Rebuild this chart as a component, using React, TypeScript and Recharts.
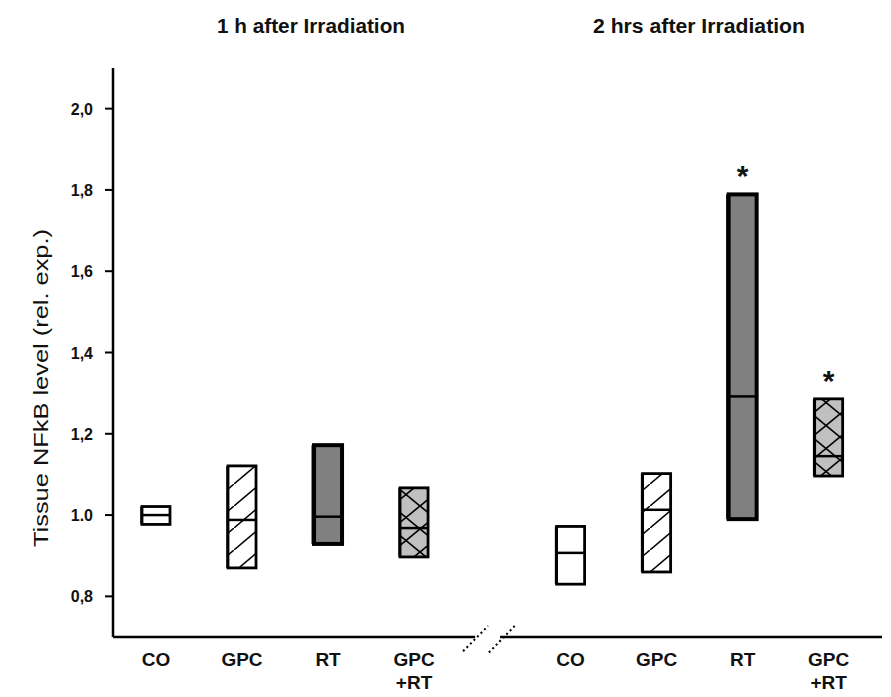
import {
  ComposedChart,
  Bar,
  Scatter,
  XAxis,
  YAxis,
  ReferenceLine,
  LabelList,
} from 'recharts';

// group headings and treatment arms
const groupTitles = ['1 h after Irradiation', '2 hrs after Irradiation'];
const treatments = ['CO', 'GPC', 'RT', 'GPC+RT'];

// tissue NFkB (relative expression): min / median / max per arm
const lows1h = [0.977, 0.87, 0.929, 0.897];
const medians1h = [1.0, 0.988, 0.996, 0.968];
const highs1h = [1.021, 1.121, 1.172, 1.067];

const lows2h = [0.83, 0.86, 0.99, 1.096];
const medians2h = [0.907, 1.013, 1.292, 1.145];
const highs2h = [0.972, 1.102, 1.789, 1.286];

const significance2h = ['', '', '*', '*'];

const yTicks = [0.8, 1.0, 1.2, 1.4, 1.6, 1.8, 2.0];
const yTickLabels = ['0,8', '1.0', '1,2', '1,4', '1,6', '1,8', '2,0'];

const W = 891;
const H = 697;
const GROUP_OFFSET = 4.82; // slot where the second group starts (leaves room for the axis break)
const FONT = 'Liberation Sans, Arial, sans-serif';

const rows = [
  ...treatments.map((t, i) => ({
    pos: i,
    name: t,
    range: [lows1h[i], highs1h[i]],
    median: medians1h[i],
    sig: '',
  })),
  ...treatments.map((t, i) => ({
    pos: GROUP_OFFSET + i,
    name: t,
    range: [lows2h[i], highs2h[i]],
    median: medians2h[i],
    sig: significance2h[i],
  })),
];

const fills: Record<string, string> = {
  CO: '#ffffff',
  GPC: 'url(#hatchDiag)',
  RT: '#808080',
  'GPC+RT': 'url(#hatchCross)',
};

function BoxShape(props: any) {
  const { x, y, width, height, payload } = props;
  const heavy = payload.name === 'RT';
  return (
    <g>
      <rect x={x} y={y} width={width} height={height} fill={fills[payload.name]} stroke="#000" strokeWidth={heavy ? 4 : 2.8} />
      {/* heavier left edge */}
      <line x1={x - 1} x2={x - 1} y1={y} y2={y + height} stroke="#000" strokeWidth={heavy ? 3 : 1.5} />
    </g>
  );
}

function MedianLine(props: any) {
  const { cx, cy } = props;
  return <line x1={cx - 14} x2={cx + 14} y1={cy} y2={cy} stroke="#000" strokeWidth={2.5} />;
}

function TreatmentTick(props: any) {
  const { x, y, index } = props;
  const label = rows[index] ? rows[index].name : '';
  const parts = label === 'GPC+RT' ? ['GPC', '+RT'] : [label];
  return (
    <g>
      {parts.map((p, k) => (
        <text key={k} x={x} y={y + 21 + k * 23} textAnchor="middle" fontSize={19} fontWeight="bold" fill="#111" fontFamily={FONT}>
          {p}
        </text>
      ))}
    </g>
  );
}

function ValueTick(props: any) {
  const { x, y, index } = props;
  return (
    <text x={x - 10} y={y} dy={6} textAnchor="end" fontSize={16} fontWeight="bold" fill="#111" fontFamily={FONT}>
      {yTickLabels[index]}
    </text>
  );
}

function Star(props: any) {
  const { x, y, width, value } = props;
  if (!value) return null;
  return (
    <text x={x + width / 2} y={y - 8} textAnchor="middle" fontSize={30} fontWeight="bold" fill="#111" fontFamily={FONT}>
      {value}
    </text>
  );
}

export default function App() {
  return (
    <div style={{ position: 'absolute', left: 0, top: 0, width: W, height: H, background: '#fff' }}>
      <svg width={0} height={0} style={{ position: 'absolute' }}>
        <defs>
          <pattern id="hatchDiag" patternUnits="userSpaceOnUse" width={26} height={22}>
            <rect width={26} height={22} fill="#fff" />
            <line x1={0} y1={22} x2={26} y2={0} stroke="#000" strokeWidth={1.5} />
          </pattern>
          <pattern id="hatchCross" patternUnits="userSpaceOnUse" width={28} height={23}>
            <rect width={28} height={23} fill="#c0c0c0" />
            <line x1={0} y1={23} x2={28} y2={0} stroke="#000" strokeWidth={1.7} />
            <line x1={0} y1={0} x2={28} y2={23} stroke="#000" strokeWidth={1.7} />
          </pattern>
        </defs>
      </svg>

      <ComposedChart width={W} height={H} data={rows} margin={{ top: 68, right: 9, bottom: 0, left: 0 }}>
        <XAxis
          type="number"
          dataKey="pos"
          domain={[-0.5, 8.44]}
          ticks={rows.map((r) => r.pos)}
          tick={<TreatmentTick />}
          axisLine={false}
          tickLine={false}
          height={60}
          allowDataOverflow
        />
        <YAxis
          type="number"
          domain={[0.7, 2.1]}
          ticks={yTicks}
          tick={<ValueTick />}
          width={113}
          axisLine={{ stroke: '#000', strokeWidth: 2.5 }}
          tickLine={{ stroke: '#000', strokeWidth: 2 }}
          tickSize={8}
          allowDataOverflow
        />

        {/* broken x axis */}
        <ReferenceLine segment={[{ x: -0.5, y: 0.7 }, { x: 3.71, y: 0.7 }]} stroke="#000" strokeWidth={2.5} ifOverflow="visible" />
        <ReferenceLine segment={[{ x: 4.0, y: 0.7 }, { x: 8.44, y: 0.7 }]} stroke="#000" strokeWidth={2.5} ifOverflow="visible" />
        <ReferenceLine segment={[{ x: 3.57, y: 0.665 }, { x: 3.86, y: 0.727 }]} stroke="#000" strokeWidth={2} strokeDasharray="2 3" ifOverflow="visible" />
        <ReferenceLine segment={[{ x: 3.87, y: 0.662 }, { x: 4.17, y: 0.727 }]} stroke="#000" strokeWidth={2} strokeDasharray="2 3" ifOverflow="visible" />

        <Bar dataKey="range" barSize={28} shape={<BoxShape />} isAnimationActive={false}>
          <LabelList dataKey="sig" content={<Star />} />
        </Bar>
        <Scatter dataKey="median" shape={<MedianLine />} isAnimationActive={false} />
      </ComposedChart>

      <svg width={W} height={H} style={{ position: 'absolute', left: 0, top: 0, pointerEvents: 'none' }}>
        <text x={311} y={33} textAnchor="middle" fontSize={20} fontWeight="bold" fill="#111" textLength={188} lengthAdjust="spacingAndGlyphs" fontFamily={FONT}>
          {groupTitles[0]}
        </text>
        <text x={699} y={33} textAnchor="middle" fontSize={20} fontWeight="bold" fill="#111" textLength={212} lengthAdjust="spacingAndGlyphs" fontFamily={FONT}>
          {groupTitles[1]}
        </text>
        <text
          transform="translate(48,388) rotate(-90)"
          textAnchor="middle"
          fontSize={21}
          fill="#111"
          textLength={318}
          lengthAdjust="spacingAndGlyphs"
          fontFamily={FONT}
        >
          Tissue NFkB level (rel. exp.)
        </text>
      </svg>
    </div>
  );
}
